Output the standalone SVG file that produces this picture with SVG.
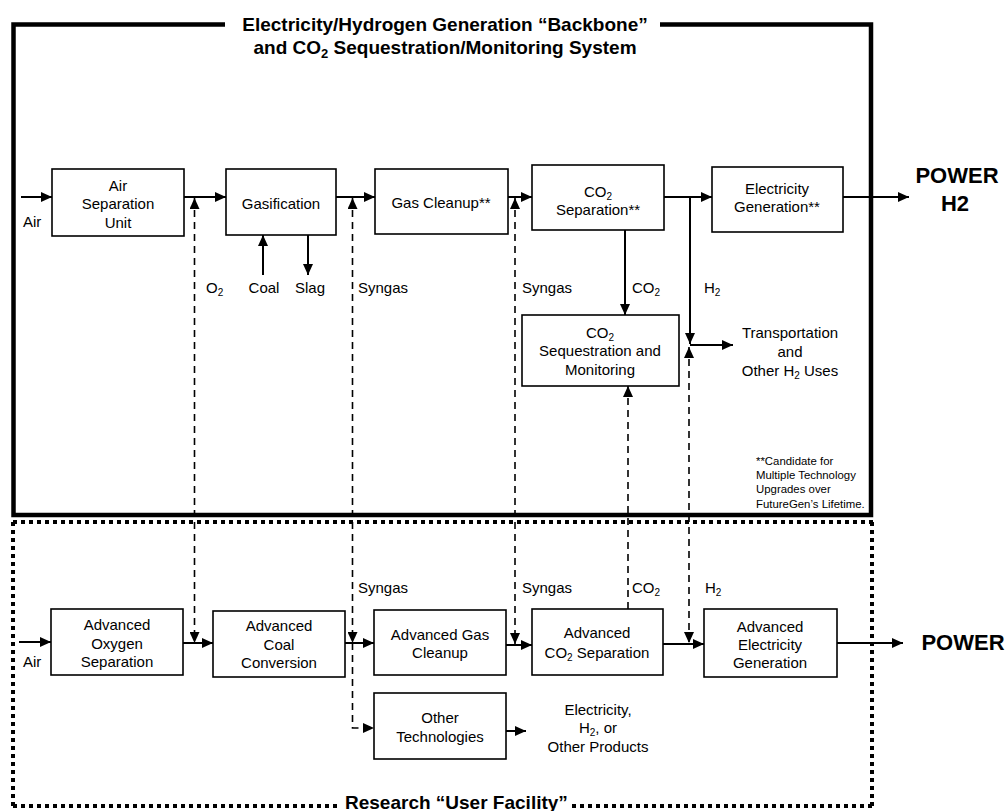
<svg xmlns="http://www.w3.org/2000/svg" width="1008" height="811" viewBox="0 0 1008 811">
<style>
text{font-family:"Liberation Sans",Arial,sans-serif;font-size:15px;fill:#000}
.c{text-anchor:middle}
.b{font-weight:bold}
.t{font-size:19px;font-weight:bold}
.p{font-size:22px;font-weight:bold;text-anchor:middle}
.f{font-size:11.4px}
.box{fill:#fff;stroke:#000;stroke-width:1.6}
.ln{fill:none;stroke:#000;stroke-width:2}
.da{fill:none;stroke:#000;stroke-width:1.6;stroke-dasharray:7 5}
.fr{fill:none;stroke:#000;stroke-width:4.5}
.dot{fill:none;stroke:#000;stroke-width:4;stroke-dasharray:4 4}
</style>
<defs>
<marker id="ah" markerUnits="userSpaceOnUse" markerWidth="12" markerHeight="10" refX="11" refY="5" orient="auto-start-reverse">
<path d="M0,0 L11,5 L0,10 z" fill="#000"/>
</marker>
</defs>

<g id="frames">
<path class="fr" d="M225,24.5 H13.5 V515 H871 V24.5 H660"/>
<path class="dot" d="M13,522 H874"/>
<path class="dot" d="M13,522 V808"/>
<path class="dot" d="M872,522 V808"/>
<path class="dot" d="M13,806 H340"/>
<path class="dot" d="M572,806 H874"/>
<text class="t c" x="445" y="31">Electricity/Hydrogen Generation “Backbone”</text>
<text class="t c" x="445" y="54">and CO<tspan font-size="13" dy="4">2</tspan><tspan dy="-4"> Sequestration/Monitoring System</tspan></text>
<text class="t" x="345" y="809">Research “User Facility”</text>
</g>

<g id="connectors">
<path class="ln" marker-end="url(#ah)" d="M21,197 H52"/>
<path class="ln" marker-end="url(#ah)" d="M184,197 H226"/>
<path class="ln" marker-end="url(#ah)" d="M336,197 H375"/>
<path class="ln" marker-end="url(#ah)" d="M508,197 H532"/>
<path class="ln" marker-end="url(#ah)" d="M664,197 H712"/>
<path class="ln" marker-end="url(#ah)" d="M843,197 H909"/>
<path class="ln" marker-end="url(#ah)" d="M263,275 V235"/>
<path class="ln" marker-end="url(#ah)" d="M308,235 V275"/>
<path class="ln" marker-end="url(#ah)" d="M625,230 V315"/>
<path class="ln" marker-end="url(#ah)" d="M690,197 V344"/>
<path class="ln" marker-end="url(#ah)" d="M690,345 H733"/>

<path class="da" marker-start="url(#ah)" marker-end="url(#ah)" d="M194.5,198 V643"/>
<path class="da" marker-start="url(#ah)" marker-end="url(#ah)" d="M352.5,198 V643"/>
<path class="da" marker-end="url(#ah)" d="M352.5,643 V728 H374"/>
<path class="da" marker-start="url(#ah)" marker-end="url(#ah)" d="M515,198 V644"/>
<path class="da" marker-start="url(#ah)" d="M628,386 V609"/>
<path class="da" marker-start="url(#ah)" marker-end="url(#ah)" d="M689,347 V643"/>

<path class="ln" marker-end="url(#ah)" d="M19,642 H51"/>
<path class="ln" marker-end="url(#ah)" d="M183,643 H213"/>
<path class="ln" marker-end="url(#ah)" d="M345,643 H374"/>
<path class="ln" marker-end="url(#ah)" d="M506,645 H532"/>
<path class="ln" marker-end="url(#ah)" d="M663,644 H704"/>
<path class="ln" marker-end="url(#ah)" d="M837,643 H903"/>
<path class="ln" marker-end="url(#ah)" d="M506,731 H526"/>
</g>

<g id="labels">
<text x="23" y="227">Air</text>
<text x="206" y="293">O<tspan font-size="10" dy="3">2</tspan></text>
<text class="c" x="264" y="293">Coal</text>
<text class="c" x="310" y="293">Slag</text>
<text x="358" y="293">Syngas</text>
<text x="522" y="293">Syngas</text>
<text x="632" y="293">CO<tspan font-size="10" dy="3">2</tspan></text>
<text x="704" y="293">H<tspan font-size="10" dy="3">2</tspan></text>
<text class="c" x="790" y="338">Transportation</text>
<text class="c" x="790" y="357">and</text>
<text class="c" x="790" y="376">Other H<tspan font-size="10" dy="3">2</tspan><tspan dy="-3"> Uses</tspan></text>
<text class="f" x="756" y="465">**Candidate for</text>
<text class="f" x="756" y="479">Multiple Technology</text>
<text class="f" x="756" y="493">Upgrades over</text>
<text class="f" x="756" y="508">FutureGen’s Lifetime.</text>
<text class="p" x="957" y="183">POWER</text>
<text class="p" x="955" y="211">H2</text>
<text x="358" y="593">Syngas</text>
<text x="522" y="593">Syngas</text>
<text x="632" y="593">CO<tspan font-size="10" dy="3">2</tspan></text>
<text x="705" y="593">H<tspan font-size="10" dy="3">2</tspan></text>
<text x="23" y="667">Air</text>
<text class="p" x="963" y="650">POWER</text>
<text class="c" x="598" y="715">Electricity,</text>
<text class="c" x="598" y="733">H<tspan font-size="10" dy="3">2</tspan><tspan dy="-3">, or</tspan></text>
<text class="c" x="598" y="752">Other Products</text>
</g>

<g id="asu"><rect class="box" x="52" y="169" width="132" height="67"/>
<text class="c" x="118" y="191">Air</text><text class="c" x="118" y="209">Separation</text><text class="c" x="118" y="228">Unit</text></g>
<g id="gasification"><rect class="box" x="226" y="169" width="110" height="66"/>
<text class="c" x="281" y="209">Gasification</text></g>
<g id="gascleanup"><rect class="box" x="375" y="169" width="133" height="65"/>
<text class="c" x="441" y="208">Gas Cleanup**</text></g>
<g id="co2sep"><rect class="box" x="532" y="165" width="132" height="65"/>
<text class="c" x="598" y="197">CO<tspan font-size="10" dy="3">2</tspan></text><text class="c" x="598" y="215">Separation**</text></g>
<g id="elecgen"><rect class="box" x="712" y="167" width="131" height="65"/>
<text class="c" x="777" y="194">Electricity</text><text class="c" x="777" y="212">Generation**</text></g>
<g id="seq"><rect class="box" x="522" y="315" width="157" height="71"/>
<text class="c" x="600" y="338">CO<tspan font-size="10" dy="3">2</tspan></text><text class="c" x="600" y="356">Sequestration and</text><text class="c" x="600" y="375">Monitoring</text></g>
<g id="aos"><rect class="box" x="51" y="609" width="132" height="66"/>
<text class="c" x="117" y="630">Advanced</text><text class="c" x="117" y="649">Oxygen</text><text class="c" x="117" y="667">Separation</text></g>
<g id="acc"><rect class="box" x="213" y="611" width="132" height="66"/>
<text class="c" x="279" y="631">Advanced</text><text class="c" x="279" y="650">Coal</text><text class="c" x="279" y="668">Conversion</text></g>
<g id="agc"><rect class="box" x="374" y="610" width="132" height="65"/>
<text class="c" x="440" y="640">Advanced Gas</text><text class="c" x="440" y="658">Cleanup</text></g>
<g id="aco2"><rect class="box" x="532" y="609" width="131" height="66"/>
<text class="c" x="597" y="638">Advanced</text><text class="c" x="597" y="658">CO<tspan font-size="10" dy="3">2</tspan><tspan dy="-3"> Separation</tspan></text></g>
<g id="aeg"><rect class="box" x="704" y="609" width="133" height="68"/>
<text class="c" x="770" y="632">Advanced</text><text class="c" x="770" y="650">Electricity</text><text class="c" x="770" y="668">Generation</text></g>
<g id="other"><rect class="box" x="374" y="693" width="132" height="66"/>
<text class="c" x="440" y="723">Other</text><text class="c" x="440" y="742">Technologies</text></g>
</svg>
